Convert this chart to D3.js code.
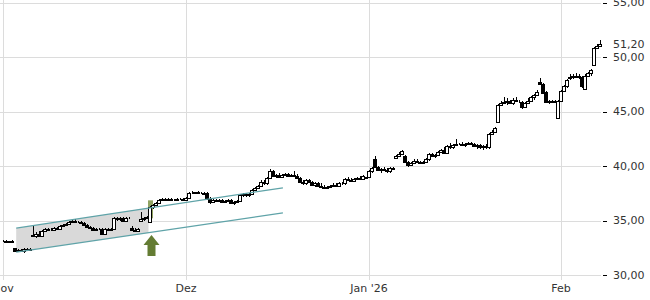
<!DOCTYPE html>
<html lang="de">
<head>
  <meta charset="UTF-8">
  <title>Kursverlauf</title>
  <style>
    body { margin: 0; background: #fff; }
    svg text { font-family: "DejaVu Sans", sans-serif; font-size: 11px; fill: #333; }
  </style>
</head>
<body>
  <svg id="chart" width="650" height="300"></svg>

  <script src="https://d3js.org/d3.v7.min.js"></script>
  <script>
    // candle data (one candle per slot)
    const opens = [
      33.1,33.1,33.0,33.1,32.5,32.2,32.3,32.2,32.4,32.3,
      33.7,33.6,33.8,33.6,34.0,34.2,34.1,34.1,34.3,34.2,
      34.5,34.6,34.7,34.9,35.0,34.9,34.9,34.8,34.6,34.4,
      34.3,34.1,34.2,34.2,33.8,34.2,34.1,34.2,35.2,35.1,
      35.2,35.0,35.2,34.3,34.1,34.0,35.0,35.1,35.2,34.9,
      36.2,36.4,36.6,36.9,37.0,36.9,37.0,36.9,36.9,37.0,
      37.0,36.9,37.1,37.5,37.5,37.6,37.5,37.5,37.5,37.0,
      36.7,36.9,36.8,36.9,36.7,36.8,36.9,36.6,36.7,36.8,
      37.3,37.4,37.3,37.4,37.8,38.0,38.2,38.5,38.4,38.9,
      39.5,39.1,39.2,39.0,39.2,39.3,39.1,39.2,39.1,38.9,
      38.5,38.4,38.7,38.5,38.3,38.4,38.2,38.1,38.0,38.1,
      38.2,38.3,38.2,38.4,38.4,38.8,38.7,38.6,38.8,38.9,
      38.8,38.9,39.0,39.5,40.6,39.9,39.6,39.7,39.6,39.5,
      39.8,40.7,40.9,41.1,40.9,40.4,40.1,40.3,40.5,40.4,
      40.3,40.4,40.6,41.1,40.9,41.0,41.3,41.5,41.2,41.8,
      41.7,41.9,42.0,42.0,41.9,42.0,42.1,42.0,41.8,41.9,
      41.7,41.8,41.7,42.9,43.1,44.0,45.6,45.8,45.9,46.0,
      45.8,46.1,46.0,45.9,45.4,45.8,46.0,46.3,46.5,47.7,
      47.5,46.8,45.9,46.0,45.9,44.4,46.0,46.9,47.3,48.1,
      48.2,48.3,48.2,48.2,47.1,48.3,48.5,49.3,50.8,51.0
    ];
    const highs = [
      33.2,33.2,33.1,33.2,32.5,32.4,32.4,32.5,32.5,32.5,
      34.6,33.9,34.0,34.1,34.3,34.3,34.3,34.4,34.4,34.6,
      34.7,34.8,35.0,35.1,35.1,35.0,35.0,34.9,34.7,34.5,
      34.4,34.3,34.3,34.3,34.3,34.3,34.3,35.3,35.3,35.3,
      35.3,35.3,35.3,34.5,34.3,34.3,35.8,35.3,35.4,36.3,
      36.5,36.7,37.0,37.1,37.1,37.1,37.1,37.0,37.1,37.1,
      37.1,37.2,37.6,37.7,37.6,37.7,37.6,37.6,37.6,37.2,
      37.0,37.0,37.0,37.0,36.9,37.0,37.0,36.8,36.9,37.4,
      37.5,37.5,37.5,37.9,38.1,38.3,38.7,38.7,39.0,39.7,
      39.6,39.3,39.4,39.3,39.4,39.4,39.3,39.5,39.3,39.0,
      38.7,38.8,38.8,38.6,38.5,38.5,38.4,38.3,38.2,38.3,
      38.4,38.4,38.5,38.5,38.9,39.0,38.9,38.9,39.0,39.1,
      39.2,39.0,39.6,39.9,40.9,40.0,39.8,39.9,39.8,39.9,
      39.9,41.0,41.3,41.5,41.0,40.5,40.4,40.6,40.6,40.5,
      40.5,40.7,41.2,41.2,41.1,41.4,41.6,41.7,41.9,42.1,
      42.0,42.5,42.1,42.2,42.1,42.2,42.2,42.1,42.0,42.0,
      41.9,42.0,43.0,43.3,43.6,45.7,46.0,46.3,46.2,46.1,
      46.2,46.3,46.1,46.0,45.9,46.2,46.4,46.6,47.0,48.1,
      47.6,46.9,46.1,46.1,46.1,46.1,47.0,47.4,48.0,48.4,
      48.4,48.5,48.4,48.3,48.4,48.6,48.9,50.9,51.2,51.6
    ];
    const lows = [
      33.0,33.0,32.9,33.0,32.1,32.1,32.1,32.0,32.2,32.2,
      33.5,33.4,33.6,33.5,33.9,34.0,34.0,34.0,34.1,34.1,
      34.4,34.5,34.6,34.8,34.8,34.8,34.7,34.5,34.3,34.2,
      34.0,34.0,34.1,33.7,33.7,34.0,34.0,34.1,35.0,35.0,
      34.9,35.0,35.1,34.0,33.9,33.9,34.9,35.0,35.1,34.8,
      36.1,36.3,36.5,36.8,36.8,36.8,36.8,36.8,36.8,36.9,
      36.8,36.8,37.0,37.4,37.4,37.4,37.4,37.3,36.9,36.5,
      36.6,36.7,36.7,36.6,36.6,36.7,36.5,36.4,36.6,36.8,
      37.2,37.2,37.2,37.3,37.7,37.9,38.1,38.3,38.3,38.8,
      39.0,38.9,38.9,38.9,39.1,39.0,39.0,39.0,38.8,38.4,
      38.3,38.3,38.4,38.2,38.1,38.1,38.0,37.9,37.9,38.0,
      38.1,38.1,38.1,38.3,38.3,38.6,38.5,38.5,38.7,38.7,
      38.7,38.8,38.9,39.4,39.8,39.5,39.4,39.5,39.4,39.4,
      39.6,40.6,40.8,41.0,40.3,39.9,40.0,40.2,40.3,40.2,
      40.2,40.3,40.5,40.8,40.7,40.9,41.2,41.1,41.2,41.6,
      41.6,41.8,41.9,41.8,41.7,41.9,41.9,41.7,41.6,41.6,
      41.5,41.6,41.6,42.8,43.0,43.9,45.5,45.7,45.6,45.7,
      45.6,45.9,45.8,45.2,45.3,45.7,45.9,46.1,46.4,47.4,
      46.6,45.8,45.7,45.8,45.8,44.3,45.9,46.8,47.2,47.9,
      48.0,48.1,48.0,47.2,47.0,48.2,48.3,49.2,50.7,50.9
    ];
    const closes = [
      33.1,33.0,33.1,33.0,32.2,32.3,32.2,32.4,32.3,32.4,
      33.6,33.8,33.6,34.0,34.2,34.1,34.1,34.3,34.2,34.5,
      34.6,34.7,34.9,35.0,34.9,34.9,34.8,34.6,34.4,34.3,
      34.1,34.2,34.2,33.8,34.2,34.1,34.2,35.2,35.1,35.2,
      35.0,35.2,35.2,34.1,34.0,34.2,35.1,35.2,35.3,36.2,
      36.4,36.6,36.9,37.0,36.9,37.0,36.9,36.9,37.0,37.0,
      36.9,37.1,37.5,37.5,37.6,37.5,37.5,37.4,37.0,36.7,
      36.9,36.8,36.9,36.7,36.8,36.9,36.6,36.7,36.8,37.3,
      37.4,37.3,37.4,37.8,38.0,38.2,38.5,38.4,38.9,39.5,
      39.1,39.2,39.0,39.2,39.3,39.1,39.2,39.1,38.9,38.5,
      38.4,38.7,38.5,38.3,38.4,38.2,38.1,38.0,38.1,38.2,
      38.3,38.2,38.4,38.4,38.8,38.7,38.6,38.8,38.9,38.8,
      39.1,39.0,39.5,39.8,39.9,39.6,39.7,39.6,39.5,39.8,
      39.7,40.9,41.1,41.4,40.4,40.1,40.3,40.5,40.4,40.3,
      40.4,40.6,41.1,40.9,41.0,41.3,41.5,41.2,41.8,41.7,
      41.9,42.0,42.0,41.9,42.0,42.1,42.0,41.8,41.9,41.7,
      41.8,41.7,42.9,43.1,43.5,45.6,45.8,45.9,46.0,45.8,
      46.1,46.0,46.0,45.4,45.8,46.0,46.3,46.5,46.8,47.5,
      46.7,45.9,46.0,45.9,46.0,46.0,46.9,47.3,47.9,48.2,
      48.3,48.2,48.3,47.3,48.3,48.5,48.8,50.8,51.0,51.2
    ];

    const monthIdx = [0, 61, 122, 186];
    const monthLabels = ["Nov", "Dez", "Jan '26", "Feb"];
    const priceTicks = [30, 35, 40, 45, 50, 55];
    const lastPrice = 51.2;

    // trend channel (candle slot, price) and the marked breakout candle
    const channelIdx = [4.4, 93.3];
    const channelUpper = [34.3, 38.0];
    const channelLower = [32.1, 35.7];
    const channelFillEnd = 48.5;
    const signalIdx = 49;

    const svg = d3.select("#chart");
    const fmt = v => d3.format(".2f")(v).replace(".", ",");

    const x = d3.scaleLinear().domain([0, opens.length - 1]).range([3, 600]);
    const y = d3.scaleLinear().domain([30, 55]).range([275, 2.5]);
    const px = v => Math.round(v) + 0.5;

    // grid
    svg.append("g").selectAll("line").data(priceTicks).join("line")
      .attr("x1", 0).attr("x2", 601)
      .attr("y1", d => px(y(d))).attr("y2", d => px(y(d)))
      .attr("stroke", "#dcdcdc");

    svg.append("g").selectAll("line").data(monthIdx).join("line")
      .attr("x1", d => px(x(d))).attr("x2", d => px(x(d)))
      .attr("y1", 0).attr("y2", 280)
      .attr("stroke", "#dcdcdc");

    // channel fill
    const lineAt = (arr, i) => arr[0] + (arr[1] - arr[0]) * (i - channelIdx[0]) / (channelIdx[1] - channelIdx[0]);
    const poly = [
      [x(channelIdx[0]), y(channelUpper[0])],
      [x(channelFillEnd), y(lineAt(channelUpper, channelFillEnd))],
      [x(channelFillEnd), y(lineAt(channelLower, channelFillEnd))],
      [x(channelIdx[0]), y(channelLower[0])]
    ];
    svg.append("polygon")
      .attr("points", poly.map(p => p.join(",")).join(" "))
      .attr("fill", "#d9d9d9");

    // breakout highlight behind the candle
    svg.append("rect")
      .attr("x", Math.round(x(signalIdx)) - 2)
      .attr("y", y(highs[signalIdx] + 0.55))
      .attr("width", 5)
      .attr("height", y(lows[signalIdx] + 0.4) - y(highs[signalIdx] + 0.55))
      .attr("fill", "#7f9448")
      .attr("opacity", 0.85);

    // candles
    const candles = svg.append("g").selectAll("g").data(opens.map((o, i) => i)).join("g");
    candles.append("line")
      .attr("x1", i => px(x(i))).attr("x2", i => px(x(i)))
      .attr("y1", i => Math.round(y(highs[i]))).attr("y2", i => Math.round(y(lows[i])))
      .attr("stroke", "#000");
    candles.append("rect")
      .attr("x", i => Math.round(x(i)) - 1.5)
      .attr("y", i => Math.round(y(Math.max(opens[i], closes[i]))) + 0.5)
      .attr("width", 3)
      .attr("height", i => Math.max(0, Math.round(y(Math.min(opens[i], closes[i]))) - Math.round(y(Math.max(opens[i], closes[i])))))
      .attr("fill", i => closes[i] >= opens[i] ? "#fff" : "#000")
      .attr("stroke", "#000");

    // channel lines
    svg.append("line")
      .attr("x1", x(channelIdx[0])).attr("x2", x(channelIdx[1]))
      .attr("y1", y(channelUpper[0])).attr("y2", y(channelUpper[1]))
      .attr("stroke", "#5fa3a8").attr("stroke-width", 1.2);
    svg.append("line")
      .attr("x1", x(channelIdx[0])).attr("x2", x(channelIdx[1]))
      .attr("y1", y(channelLower[0])).attr("y2", y(channelLower[1]))
      .attr("stroke", "#5fa3a8").attr("stroke-width", 1.2);

    // signal arrow
    const ax = x(signalIdx) + 1.5;
    svg.append("polygon")
      .attr("points", [
        [ax, 235], [ax + 8, 245], [ax + 4, 245], [ax + 4, 256],
        [ax - 4, 256], [ax - 4, 245], [ax - 8, 245]
      ].map(p => p.join(",")).join(" "))
      .attr("fill", "#647c33");

    // right price axis
    const right = svg.append("g");
    right.selectAll("line").data(priceTicks).join("line")
      .attr("x1", 603).attr("x2", 607)
      .attr("y1", d => px(y(d))).attr("y2", d => px(y(d)))
      .attr("stroke", "#000");
    right.selectAll("text").data(priceTicks).join("text")
      .attr("x", 613).attr("y", d => y(d)).attr("dy", "0.35em")
      .text(fmt);
    svg.append("text")
      .attr("x", 613).attr("y", y(lastPrice)).attr("dy", "0.35em")
      .text(fmt(lastPrice));

    // month labels
    svg.append("g").selectAll("text").data(monthIdx).join("text")
      .attr("x", d => x(d)).attr("y", 292)
      .attr("text-anchor", "middle")
      .text((d, i) => monthLabels[i]);
  </script>
</body>
</html>
